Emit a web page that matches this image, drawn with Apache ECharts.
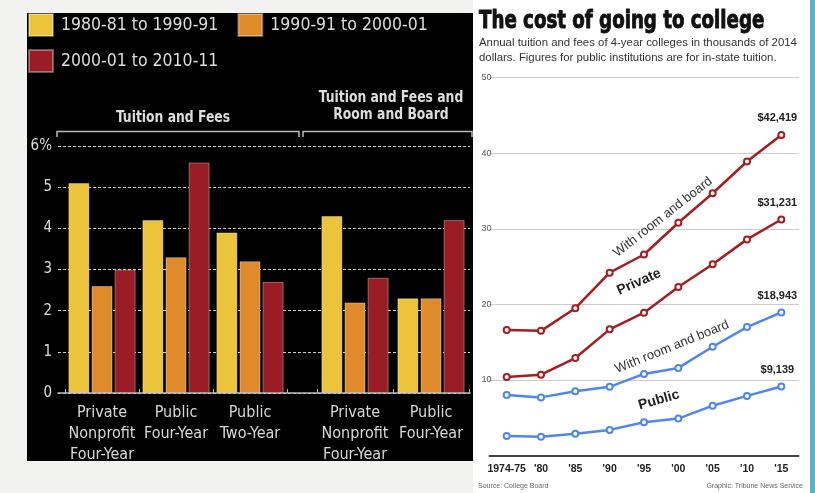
<!DOCTYPE html>
<html><head><meta charset="utf-8">
<script src="https://cdn.jsdelivr.net/npm/echarts@6/dist/echarts.min.js"></script>
<style>html,body{margin:0;padding:0;background:#f2f2f0;}#c{width:815px;height:493px;}</style>
</head><body><div id="c"></div>
<script>
// ---------- left chart data ----------
const periods = ['1980-81 to 1990-91', '1990-91 to 2000-01', '2000-01 to 2010-11'];
const tfCategories = ['Private\nNonprofit\nFour-Year', 'Public\nFour-Year', 'Public\nTwo-Year'];
const tfrbCategories = ['Private\nNonprofit\nFour-Year', 'Public\nFour-Year'];
const tf1980s = [5.1, 4.2, 3.9];
const tf1990s = [2.6, 3.3, 3.2];
const tf2000s = [3.0, 5.6, 2.7];
const tfrb1980s = [4.3, 2.3];
const tfrb1990s = [2.2, 2.3];
const tfrb2000s = [2.8, 4.2];
const pctMax = 6;

// ---------- right chart data (thousands of 2014 dollars) ----------
const years = ['1974-75', "'80", "'85", "'90", "'95", "'00", "'05", "'10", "'15"];
const privateRoomBoard = [16.6, 16.5, 19.5, 24.2, 26.6, 30.8, 34.7, 38.9, 42.419];
const privateTuition = [10.4, 10.7, 12.9, 16.7, 18.9, 22.3, 25.3, 28.6, 31.231];
const publicRoomBoard = [8.0, 7.7, 8.5, 9.1, 10.8, 11.6, 14.4, 17.0, 18.943];
const publicTuition = [2.6, 2.5, 2.9, 3.4, 4.4, 4.9, 6.6, 7.9, 9.139];
const costMax = 50;

const NARROW = "'DejaVu Sans Condensed','Liberation Sans Narrow',sans-serif";
const SANS = "'Liberation Sans',Arial,Helvetica,sans-serif";
const barColors = ['#ecc43b', '#e08b2b', '#9a1c24'];
const RED = '#a51d1d', BLUE = '#4f86ec';

function barSeries(name, data, idx, color) {
  return {
    type: 'bar', name: name, data: data, xAxisIndex: idx, yAxisIndex: idx,
    barWidth: 21, barGap: '10%',
    itemStyle: { color: color, borderColor: 'rgba(255,255,255,0.35)', borderWidth: 1 }
  };
}
function lineSeries(name, data, color) {
  return {
    type: 'line', name: name, data: data, xAxisIndex: 3, yAxisIndex: 3,
    symbol: 'emptyCircle', symbolSize: 6, z: 5,
    lineStyle: { color: color, width: 2.5 },
    itemStyle: { color: color, borderWidth: 1.5 },
    label: {
      show: true, position: 'top', distance: 7, offset: [-4, 0],
      color: '#222', fontWeight: 'bold', fontSize: 11, fontFamily: SANS,
      formatter: p => p.dataIndex === data.length - 1 ? '$' + Math.round(p.value * 1000).toLocaleString('en-US') : ''
    }
  };
}
const catAxisLeft = (gi, cats) => ({
  type: 'category', gridIndex: gi, data: cats,
  axisLine: { show: false },
  axisTick: { show: true, inside: true, length: 4, lineStyle: { color: '#bbb' } },
  axisLabel: { interval: 0, color: '#d8d8d8', fontSize: 16, lineHeight: 21, margin: 9, fontFamily: NARROW }
});
const hiddenY = gi => ({ type: 'value', gridIndex: gi, min: 0, max: pctMax, show: false });
const legendText = { color: '#ddd', fontSize: 17.5, fontFamily: NARROW, padding: [0, 0, 0, 3] };

const chart = echarts.init(document.getElementById('c'), null, { renderer: 'canvas' });
chart.setOption({
  animation: false,
  backgroundColor: 'transparent',
  title: {
    text: '',
    subtext: 'Annual tuition and fees of 4-year colleges in thousands of 2014\ndollars. Figures for public institutions are for in-state tuition.',
    left: 479, top: 36, itemGap: 0, padding: 0,
    subtextStyle: { fontFamily: SANS, fontSize: 11.4, lineHeight: 14.5, color: '#333' }
  },
  legend: [
    { data: [periods[0], periods[1]], left: 28, top: 13, padding: 0, itemWidth: 24, itemHeight: 22, itemGap: 19,
      icon: 'rect', selectedMode: false, textStyle: legendText },
    { data: [periods[2]], left: 28, top: 49, padding: 0, itemWidth: 24, itemHeight: 22,
      icon: 'rect', selectedMode: false, textStyle: legendText }
  ],
  grid: [
    { left: 58, right: 345, top: 146, bottom: 100 },
    { left: 65, width: 222, top: 146, bottom: 100 },
    { left: 317, width: 152, top: 146, bottom: 100 },
    { left: 489.5, right: 16.5, top: 77.6, bottom: 37.4 }
  ],
  xAxis: [
    { type: 'value', gridIndex: 0, min: 0, max: 1, axisLine: { show: true, lineStyle: { color: '#bbb', width: 1.5 } },
      axisTick: { show: false }, axisLabel: { show: false }, splitLine: { show: false } },
    catAxisLeft(1, tfCategories),
    catAxisLeft(2, tfrbCategories),
    { type: 'category', gridIndex: 3, data: years, boundaryGap: true,
      axisLine: { lineStyle: { color: '#444', width: 2 } },
      axisTick: { alignWithLabel: true, length: 5, lineStyle: { color: '#444', width: 1.5 } },
      axisLabel: { interval: 0, hideOverlap: false, color: '#222', fontWeight: 'bold', fontSize: 10.5, margin: 8, fontFamily: SANS } }
  ],
  yAxis: [
    { type: 'value', gridIndex: 0, min: 0, max: pctMax, interval: 1,
      axisLine: { show: false }, axisTick: { show: false },
      splitLine: { lineStyle: { type: [3, 2], color: '#ccc', width: 1 } },
      axisLabel: { color: '#ddd', fontSize: 15, margin: 6, fontFamily: NARROW, formatter: v => v === pctMax ? v + '%' : v } },
    hiddenY(1), hiddenY(2),
    { type: 'value', gridIndex: 3, min: 0, max: costMax, interval: 10,
      axisLine: { show: false }, axisTick: { show: false },
      splitLine: { lineStyle: { type: 'dotted', color: '#999', width: 1 } },
      axisLabel: { showMinLabel: false, align: 'left', margin: 8, color: '#555', fontSize: 9, fontFamily: SANS } }
  ],
  series: [
    barSeries(periods[0], tf1980s, 1, barColors[0]),
    barSeries(periods[1], tf1990s, 1, barColors[1]),
    barSeries(periods[2], tf2000s, 1, barColors[2]),
    barSeries(periods[0], tfrb1980s, 2, barColors[0]),
    barSeries(periods[1], tfrb1990s, 2, barColors[1]),
    barSeries(periods[2], tfrb2000s, 2, barColors[2]),
    lineSeries('Private with room and board', privateRoomBoard, RED),
    lineSeries('Private', privateTuition, RED),
    lineSeries('Public with room and board', publicRoomBoard, BLUE),
    lineSeries('Public', publicTuition, BLUE)
  ],
  graphic: [
    { type: 'rect', z: -10, silent: true, shape: { x: 27, y: 13, width: 446, height: 448 }, style: { fill: '#000' } },
    { type: 'rect', z: -10, silent: true, shape: { x: 473, y: 0, width: 337, height: 493 }, style: { fill: '#fff' } },
    { type: 'rect', z: -10, silent: true, shape: { x: 810, y: 0, width: 5, height: 493 }, style: { fill: '#5fb2c6' } },
    { type: 'text', z: 10, x: 479, y: 21, scaleX: 0.81, style: { text: 'The cost of going to college', fill: '#111', stroke: '#111', lineWidth: 0.9, font: 'bold 25px ' + NARROW, textVerticalAlign: 'middle' } },
    { type: 'text', z: 10, x: 173, y: 118, scaleX: 0.86, style: { text: 'Tuition and Fees', fill: '#ddd', font: 'bold 16px ' + NARROW, textAlign: 'center', textVerticalAlign: 'middle' } },
    { type: 'text', z: 10, x: 391, y: 106, scaleX: 0.86, style: { text: 'Tuition and Fees and\nRoom and Board', fill: '#ddd', font: 'bold 16px ' + NARROW, lineHeight: 17, textAlign: 'center', textVerticalAlign: 'middle' } },
    { type: 'polyline', z: 10, shape: { points: [[57, 137], [57, 131.5], [299, 131.5], [299, 137]] }, style: { stroke: '#bbb', lineWidth: 1.5, fill: null } },
    { type: 'polyline', z: 10, shape: { points: [[303, 137], [303, 131.5], [472, 131.5], [472, 137]] }, style: { stroke: '#bbb', lineWidth: 1.5, fill: null } },
    { type: 'text', z: 10, x: 663, y: 217, rotation: 38 * Math.PI / 180, style: { text: 'With room and board', fill: '#333', font: '13px ' + SANS, textAlign: 'center', textVerticalAlign: 'middle' } },
    { type: 'text', z: 10, x: 639, y: 282, rotation: 24 * Math.PI / 180, style: { text: 'Private', fill: '#222', font: 'bold 14px ' + SANS, textAlign: 'center', textVerticalAlign: 'middle' } },
    { type: 'text', z: 10, x: 672, y: 347, rotation: 22 * Math.PI / 180, style: { text: 'With room and board', fill: '#333', font: '13px ' + SANS, textAlign: 'center', textVerticalAlign: 'middle' } },
    { type: 'text', z: 10, x: 659, y: 400, rotation: 16 * Math.PI / 180, style: { text: 'Public', fill: '#222', font: 'bold 14px ' + SANS, textAlign: 'center', textVerticalAlign: 'middle' } },
    { type: 'text', z: 10, x: 478, y: 486, style: { text: 'Source: College Board', fill: '#666', font: '7px ' + SANS, textVerticalAlign: 'middle' } },
    { type: 'text', z: 10, x: 803, y: 486, style: { text: 'Graphic: Tribune News Service', fill: '#666', font: '7px ' + SANS, textAlign: 'right', textVerticalAlign: 'middle' } }
  ]
});
</script></body></html>
